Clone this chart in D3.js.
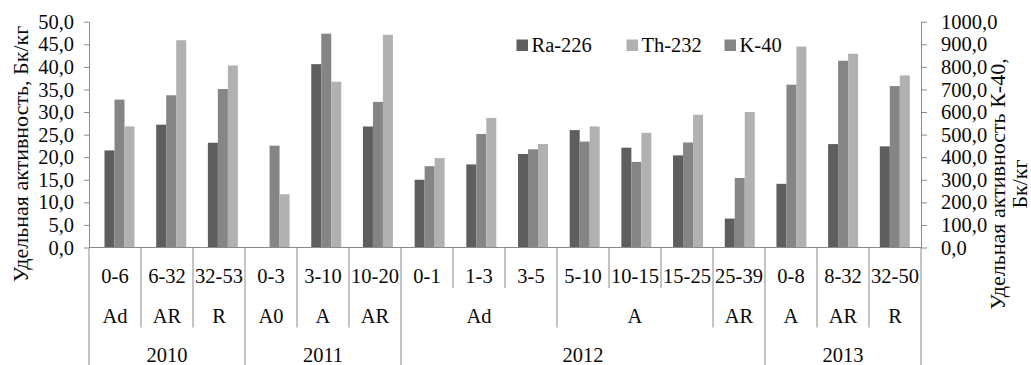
<!DOCTYPE html>
<html>
<head>
<meta charset="utf-8">
<script src="https://cdn.jsdelivr.net/npm/d3@7"></script>
<style>
  html, body { margin: 0; padding: 0; background: #fff; }
  svg { display: block; }
  text { font-family: "Liberation Serif", "Times New Roman", serif; fill: #0a0a0a; }
</style>
</head>
<body>
<svg id="chart" width="1031" height="365"></svg>
<script>
// Sampling depths (cm), one column per depth
const depths = ["0-6", "6-32", "32-53", "0-3", "3-10", "10-20", "0-1", "1-3", "3-5",
                "5-10", "10-15", "15-25", "25-39", "0-8", "8-32", "32-50"];
// Soil horizons and how many depth columns each spans
const horizonLabels = ["Ad", "AR", "R", "A0", "A", "AR", "Ad", "A", "AR", "A", "AR", "R"];
const horizonSpans  = [1, 1, 1, 1, 1, 1, 3, 3, 1, 1, 1, 1];
// Sampling years and how many depth columns each spans
const yearLabels = ["2010", "2011", "2012", "2013"];
const yearSpans  = [3, 3, 7, 3];

// Specific activity, Bq/kg
const ra226 = [21.5, 27.2, 23.2, null, 40.6, 26.8, 15.0, 18.4, 20.7, 26.0, 22.1, 20.4, 6.4, 14.1, 22.9, 22.4];
const th232 = [26.8, 45.9, 40.3, 11.8, 36.7, 47.1, 19.8, 28.7, 22.9, 26.8, 25.4, 29.4, 30.0, 44.5, 42.9, 38.1];
const k40   = [655, 674, 702, 451, 947, 645, 360, 503, 435, 469, 379, 465, 308, 721, 827, 715];

// Axis tick values
const leftTicks  = [0, 5, 10, 15, 20, 25, 30, 35, 40, 45, 50];
const rightTicks = [0, 100, 200, 300, 400, 500, 600, 700, 800, 900, 1000];

// Series: order within a column, and order in the legend
const barOrder    = ["Ra-226", "K-40", "Th-232"];
const legendOrder = ["Ra-226", "Th-232", "K-40"];
const seriesValues = { "Ra-226": ra226, "Th-232": th232, "K-40": k40 };
const seriesAxis   = { "Ra-226": "left", "Th-232": "left", "K-40": "right" };
const colors = { "Ra-226": "#5e5e5e", "K-40": "#858585", "Th-232": "#b1b1b1" };

const axisColor = "#8a8a8a";
const fontSize = 20.5;
const titleSize = 22;
const svg = d3.select("#chart");

const plotLeft = 89, plotRight = 921, plotTop = 21.7, plotBottom = 247.5;

const x = d3.scaleBand().domain(depths).range([plotLeft, plotRight]).padding(0);
const xBars = d3.scaleBand().domain(depths).range([plotLeft, plotRight - 5]).padding(0);
const inner = d3.scaleBand().domain(barOrder).range([15.5, 45.5]).padding(0);
const yLeft = d3.scaleLinear().domain([0, 50]).range([plotBottom, plotTop]);
const yRight = d3.scaleLinear().domain([0, 1000]).range([plotBottom, plotTop]);

const comma = d => d3.format(".1f")(d).replace(".", ",");

// Bars
barOrder.forEach(name => {
  const scale = seriesAxis[name] === "left" ? yLeft : yRight;
  const vals = seriesValues[name];
  svg.append("g").selectAll("rect")
    .data(depths.map((d, i) => ({ d, v: vals[i] })).filter(e => e.v != null))
    .join("rect")
      .attr("x", e => xBars(e.d) + inner(name))
      .attr("width", inner.bandwidth())
      .attr("y", e => scale(e.v))
      .attr("height", e => scale(0) - scale(e.v))
      .attr("fill", colors[name]);
});

// Y axes
function styleAxis(g) {
  g.select(".domain").attr("stroke", axisColor);
  g.selectAll(".tick line").attr("stroke", axisColor);
  g.selectAll(".tick text").style("font-size", fontSize + "px")
    .style("font-family", '"Liberation Serif", "Times New Roman", serif').attr("fill", "#0a0a0a");
}
svg.append("g")
  .attr("transform", `translate(${plotLeft},0)`)
  .call(d3.axisLeft(yLeft).tickValues(leftTicks).tickFormat(comma).tickSize(5).tickPadding(10).tickSizeOuter(0))
  .call(styleAxis);
svg.append("g")
  .attr("transform", `translate(${plotRight},0)`)
  .call(d3.axisRight(yRight).tickValues(rightTicks).tickFormat(comma).tickSize(6).tickPadding(14).tickSizeOuter(0))
  .call(styleAxis);

// Category axis baseline
svg.append("line")
  .attr("x1", plotLeft).attr("x2", plotRight)
  .attr("y1", plotBottom).attr("y2", plotBottom)
  .attr("stroke", axisColor);

// Group boundaries, as column indices
const cumulative = spans => spans.reduce((acc, s) => { acc.push(acc[acc.length - 1] + s); return acc; }, [0]);
const yearBounds = new Set(cumulative(yearSpans));
const horizonBounds = new Set(cumulative(horizonSpans));
const step = x.step();
const boundaryX = i => plotLeft + i * step;

const rowDepth = 276, rowHorizon = 316, rowYear = 355;
const divider = svg.append("g").attr("stroke", axisColor);
d3.range(depths.length + 1).forEach(i => {
  const bottom = yearBounds.has(i) ? 365 : horizonBounds.has(i) ? 327.5 : 288;
  divider.append("line")
    .attr("x1", boundaryX(i)).attr("x2", boundaryX(i))
    .attr("y1", plotBottom).attr("y2", bottom);
});

// Depth labels
svg.append("g").selectAll("text").data(depths).join("text")
  .attr("x", d => x(d) + x.bandwidth() / 2)
  .attr("y", rowDepth).attr("dy", "0.35em")
  .attr("text-anchor", "middle").style("font-size", fontSize + "px")
  .text(d => d);

// Horizon labels
const hStarts = cumulative(horizonSpans);
svg.append("g").selectAll("text").data(horizonLabels).join("text")
  .attr("x", (d, i) => boundaryX(hStarts[i]) + horizonSpans[i] * step / 2)
  .attr("y", rowHorizon).attr("dy", "0.35em")
  .attr("text-anchor", "middle").style("font-size", fontSize + "px")
  .text(d => d);

// Year labels
const yStarts = cumulative(yearSpans);
svg.append("g").selectAll("text").data(yearLabels).join("text")
  .attr("x", (d, i) => boundaryX(yStarts[i]) + yearSpans[i] * step / 2)
  .attr("y", rowYear).attr("dy", "0.35em")
  .attr("text-anchor", "middle").style("font-size", fontSize + "px")
  .text(d => d);

// Axis titles
svg.append("text")
  .attr("transform", "translate(20,154) rotate(-90)")
  .attr("dy", "0.35em").attr("text-anchor", "middle").style("font-size", titleSize + "px")
  .text("Удельная активность, Бк/кг");
const rt = svg.append("text")
  .attr("transform", "translate(997,184) rotate(-90)")
  .attr("text-anchor", "middle").style("font-size", titleSize + "px");
rt.append("tspan").attr("x", 0).attr("dy", "0.35em").text("Удельная активность К-40,");
rt.append("tspan").attr("x", 0).attr("dy", "1.0em").text("Бк/кг");

// Legend
const legendX = { "Ra-226": 516.5, "Th-232": 626.5, "K-40": 724.5 };
const legend = svg.append("g").selectAll("g").data(legendOrder).join("g")
  .attr("transform", d => `translate(${legendX[d]},39.5)`);
legend.append("rect").attr("width", 11.5).attr("height", 11.5).attr("fill", d => colors[d]);
legend.append("text").attr("x", 15).attr("y", 5.75).attr("dy", "0.35em")
  .style("font-size", fontSize + "px").text(d => d);
</script>
</body>
</html>
